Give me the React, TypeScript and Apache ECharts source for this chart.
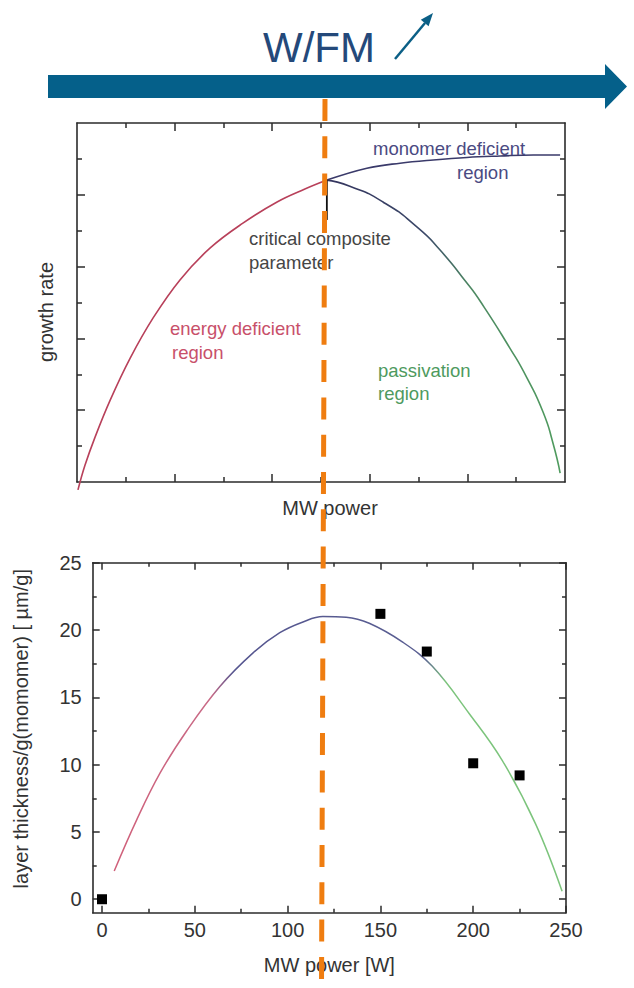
import React, { useEffect, useRef } from "react";
import * as echarts from "echarts";

// ---------- Top chart (schematic, arbitrary units 0..10) ----------
const topEnergyDeficient: number[][] = [
  [0.02, -0.22], [0.16, 0.45], [0.37, 1.25], [0.68, 2.28], [1.09, 3.45], [1.56, 4.57],
  [2.11, 5.63], [2.73, 6.52], [3.4, 7.21], [4.1, 7.8], [4.67, 8.16], [5.12, 8.41],
];
const topMonomerDeficient: number[][] = [
  [5.12, 8.41], [5.94, 8.74], [6.62, 8.88], [7.3, 8.97], [7.99, 9.04], [8.67, 9.08], [9.35, 9.11], [9.9, 9.11],
];
const topPassivation: number[][] = [
  [5.12, 8.41], [5.59, 8.24], [6.27, 7.8], [6.97, 7.1], [7.44, 6.46], [7.99, 5.54], [8.26, 5.04],
  [8.87, 3.73], [9.22, 2.9], [9.55, 1.95], [9.75, 1.1], [9.9, 0.25],
];
const topCriticalMarker: number[][] = [[5.12, 8.41], [5.12, 7.3]];
const topMajorTicks = [2, 4, 6, 8];
const topMinorTicks = [1, 3, 5, 7, 9];

// ---------- Bottom chart ----------
const fitRed: number[][] = [[6.6, 2.1], [18.7, 5.9], [31.4, 9.4], [45.6, 12.5], [63.5, 15.8]];
const fitBlue: number[][] = [
  [63.5, 15.8], [81.4, 18.3], [95.8, 19.8], [108.3, 20.6], [119, 21.0], [131.6, 20.95], [144, 20.5], [162, 19.1], [178, 17.3],
];
const fitGreen: number[][] = [[178, 17.3], [197.8, 13.8], [215.7, 10.3], [233.6, 5.6], [247.9, 0.6]];
const measuredPower = [0, 150, 175, 200, 225];
const measuredThickness = [0, 21.2, 18.4, 10.1, 9.2];
const bottomXMajor = [0, 50, 100, 150, 200, 250];
const bottomXMinor = [25, 75, 125, 175, 225];
const bottomYMajor = [0, 5, 10, 15, 20, 25];
const bottomYMinor = [2.5, 7.5, 12.5, 17.5, 22.5];

const FONT = '"Liberation Sans", Arial, sans-serif';
const AX = "#2b2b2b";

function axisBase(extra: any) {
  return {
    type: "value",
    splitLine: { show: false },
    axisLine: { show: false, onZero: false, lineStyle: { color: AX, width: 1.6 } },
    axisLabel: { show: false },
    ...extra,
  };
}

function tickSet(values: number[], len: number) {
  return { show: true, inside: true, length: len, customValues: values, lineStyle: { color: AX, width: 1.5 } };
}

export default function App() {
  const ref = useRef<HTMLDivElement>(null);
  useEffect(() => {
    if (!ref.current) return;
    const chart = echarts.init(ref.current, undefined, { renderer: "svg" });

    const shownLine = { show: true, onZero: false, lineStyle: { color: AX, width: 1.6 } };
    const xAxes: any[] = [];
    const yAxes: any[] = [];
    const topX = { gridIndex: 0, min: 0, max: 10 };
    xAxes.push(axisBase({
      ...topX, position: "bottom", axisLine: shownLine,
      axisTick: tickSet(topMajorTicks, 8),
      name: "MW power", nameLocation: "middle", nameGap: 16,
      nameTextStyle: { fontFamily: FONT, fontSize: 20, color: "#333", padding: [0, 0, 0, 18] },
    }));
    xAxes.push(axisBase({ ...topX, position: "bottom", axisTick: tickSet(topMinorTicks, 5) }));
    xAxes.push(axisBase({ ...topX, position: "top", axisLine: shownLine, axisTick: tickSet(topMajorTicks, 8) }));
    xAxes.push(axisBase({ ...topX, position: "top", axisTick: tickSet(topMinorTicks, 5) }));
    const topY = { gridIndex: 0, min: 0, max: 10 };
    yAxes.push(axisBase({
      ...topY, position: "left", axisLine: shownLine,
      axisTick: tickSet(topMajorTicks, 8),
      name: "growth rate", nameLocation: "middle", nameGap: 21,
      nameTextStyle: { fontFamily: FONT, fontSize: 20, color: "#333", padding: [0, 19, 0, 0] },
    }));
    yAxes.push(axisBase({ ...topY, position: "left", axisTick: tickSet(topMinorTicks, 5) }));
    yAxes.push(axisBase({ ...topY, position: "right", axisLine: shownLine, axisTick: tickSet(topMajorTicks, 8) }));
    yAxes.push(axisBase({ ...topY, position: "right", axisTick: tickSet(topMinorTicks, 5) }));

    const botX = { gridIndex: 1, min: -5, max: 250 };
    xAxes.push(axisBase({
      ...botX, position: "bottom", axisLine: shownLine,
      axisTick: tickSet(bottomXMajor, 7),
      axisLabel: { show: true, customValues: bottomXMajor, fontFamily: FONT, fontSize: 20, color: "#333", margin: 7 },
      name: "MW power [W]", nameLocation: "middle", nameGap: 42,
      nameTextStyle: { fontFamily: FONT, fontSize: 20, color: "#333" },
    }));
    xAxes.push(axisBase({ ...botX, position: "bottom", axisTick: tickSet(bottomXMinor, 4) }));
    xAxes.push(axisBase({ ...botX, position: "top", axisLine: shownLine, axisTick: tickSet(bottomXMajor, 7) }));
    xAxes.push(axisBase({ ...botX, position: "top", axisTick: tickSet(bottomXMinor, 4) }));
    const botY = { gridIndex: 1, min: -1, max: 25 };
    yAxes.push(axisBase({
      ...botY, position: "left", axisLine: shownLine,
      axisTick: tickSet(bottomYMajor, 7),
      axisLabel: { show: true, customValues: bottomYMajor, fontFamily: FONT, fontSize: 20, color: "#333", margin: 11 },
      name: "layer thickness/g(momomer) [ µm/g]", nameLocation: "middle", nameGap: 62,
      nameTextStyle: { fontFamily: FONT, fontSize: 20, color: "#333", padding: [0, 0, 0, 18] },
    }));
    yAxes.push(axisBase({ ...botY, position: "left", axisTick: tickSet(bottomYMinor, 4) }));
    yAxes.push(axisBase({ ...botY, position: "right", axisLine: shownLine, axisTick: tickSet(bottomYMajor, 7) }));
    yAxes.push(axisBase({ ...botY, position: "right", axisTick: tickSet(bottomYMinor, 4) }));

    const lineSeries = (data: number[][], color: any, xi: number, yi: number, width = 1.6, smooth = 0.4) => ({
      type: "line",
      xAxisIndex: xi,
      yAxisIndex: yi,
      data,
      symbol: "none",
      smooth,
      clip: false,
      lineStyle: { color, width },
      z: 3,
    });

    const passGrad = new echarts.graphic.LinearGradient(0, 0, 1, 0, [
      { offset: 0, color: "#34345e" },
      { offset: 0.42, color: "#3b4868" },
      { offset: 0.62, color: "#4d8962" },
      { offset: 1, color: "#4f9b5e" },
    ]);

    const fitAll = [...fitRed, ...fitBlue.slice(1), ...fitGreen.slice(1)];
    const x0 = fitAll[0][0];
    const x1 = fitAll[fitAll.length - 1][0];
    const o1 = (fitRed[fitRed.length - 1][0] - x0) / (x1 - x0);
    const o2 = (fitGreen[0][0] - x0) / (x1 - x0);
    const fitGrad = new echarts.graphic.LinearGradient(0, 0, 1, 0, [
      { offset: 0, color: "#d0607a" },
      { offset: o1 - 0.02, color: "#c86a86" },
      { offset: o1 + 0.03, color: "#55558f" },
      { offset: o2 - 0.02, color: "#5a5f92" },
      { offset: o2 + 0.03, color: "#7cc47c" },
      { offset: 1, color: "#7cc47c" },
    ]);

    const txt = (text: string, x: number, y: number, fill: string, size = 18.5) => ({
      type: "text",
      x,
      y,
      z: 50,
      style: { text, fill, font: `${size}px ${FONT}`, textAlign: "left", textVerticalAlign: "middle" },
    });

    const tip = [433, 13];
    const graphic: any[] = [
      {
        type: "polygon",
        z: 60,
        shape: { points: [[48, 75], [605, 75], [605, 64], [627, 86.5], [605, 109], [605, 98], [48, 98]] },
        style: { fill: "#05608a" },
      },
      { type: "text", x: 263, y: 47, z: 60, style: { text: "W/FM", fill: "#24497a", font: `42px ${FONT}`, textAlign: "left", textVerticalAlign: "middle" } },
      { type: "line", z: 60, shape: { x1: 395, y1: 59, x2: 425, y2: 23 }, style: { stroke: "#0b5f86", lineWidth: 2.5 } },
      {
        type: "polygon",
        z: 60,
        shape: { points: [tip, [428.6, 26.2], [420.8, 19.8]] },
        style: { fill: "#0b5f86" },
      },
      txt("monomer deficient", 373, 148, "#4a4a82"),
      txt("region", 457, 172, "#4a4a82"),
      txt("critical composite", 249, 238, "#454545"),
      txt("parameter", 249, 262, "#454545"),
      txt("energy deficient", 170, 328, "#c8506a"),
      txt("region", 172, 352, "#c8506a"),
      txt("passivation", 378, 370, "#4e9a5e"),
      txt("region", 378, 393, "#4e9a5e"),
      {
        type: "line",
        z: 100,
        shape: { x1: 325, y1: 99, x2: 321.5, y2: 988 },
        style: { stroke: "#ef7d10", lineWidth: 5, lineDash: [22, 15.3] },
      },
    ];

    chart.setOption({
      animation: false,
      backgroundColor: "#ffffff",
      grid: [
        { left: 77, top: 123, width: 488, height: 359, containLabel: false },
        { left: 92.7, top: 562.7, width: 473.3, height: 350, containLabel: false },
      ],
      xAxis: xAxes,
      yAxis: yAxes,
      series: [
        lineSeries(topEnergyDeficient, "#b8405a", 0, 0),
        lineSeries(topMonomerDeficient, "#3a3a6a", 0, 0),
        lineSeries(topPassivation, passGrad, 0, 0, 1.6, 0.6),
        { ...lineSeries(topCriticalMarker, "#111111", 0, 0, 1.8), smooth: false },
        lineSeries(fitAll, fitGrad, 4, 4, 1.5),
        {
          type: "scatter",
          xAxisIndex: 4,
          yAxisIndex: 4,
          data: measuredPower.map((p, i) => [p, measuredThickness[i]]),
          symbol: "rect",
          symbolSize: 10,
          itemStyle: { color: "#000000", opacity: 1 },
          z: 5,
        },
      ],
      graphic,
    });
    return () => chart.dispose();
  }, []);
  return <div ref={ref} style={{ position: "absolute", left: 0, top: 0, width: 634, height: 988 }} />;
}
